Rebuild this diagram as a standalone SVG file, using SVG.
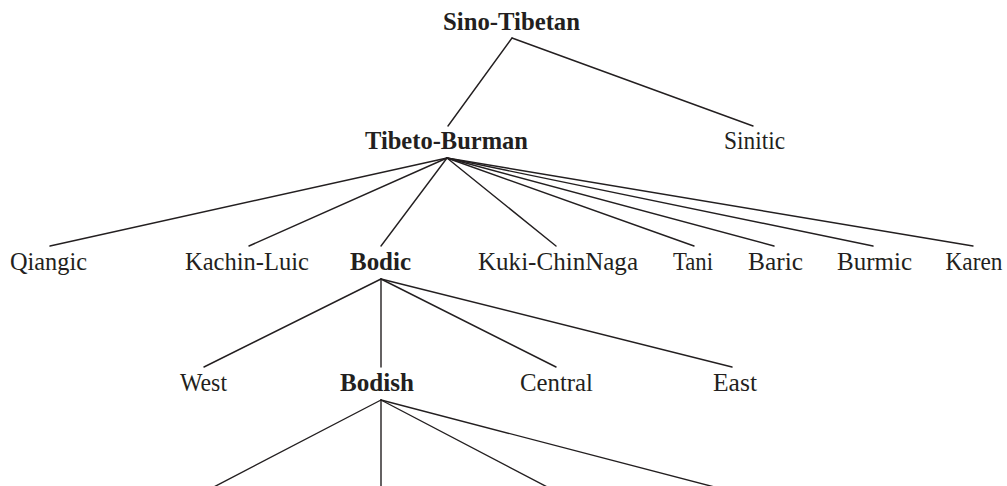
<svg xmlns="http://www.w3.org/2000/svg" width="1007" height="486" viewBox="0 0 1007 486">
<style>
text{font-family:"Liberation Serif","Times New Roman",serif;font-size:25.5px;fill:#231f20;text-anchor:middle}
.b{font-weight:bold}
#connectors line{stroke:#231f20;stroke-width:1.4;stroke-linecap:round}
</style>
<rect width="1007" height="486" fill="#fff"/>
<g id="connectors">
<line x1="512" y1="38" x2="448" y2="126"/>
<line x1="512" y1="38" x2="753" y2="126"/>
<line x1="447" y1="158" x2="50" y2="246"/>
<line x1="447" y1="158" x2="249" y2="246"/>
<line x1="447" y1="158" x2="381" y2="246"/>
<line x1="447" y1="158" x2="556" y2="246"/>
<line x1="447" y1="158" x2="694" y2="246"/>
<line x1="447" y1="158" x2="774" y2="246"/>
<line x1="447" y1="158" x2="873" y2="246"/>
<line x1="447" y1="158" x2="973" y2="246"/>
<line x1="381" y1="279" x2="204" y2="367"/>
<line x1="381" y1="279" x2="381" y2="367"/>
<line x1="381" y1="279" x2="556" y2="367"/>
<line x1="381" y1="279" x2="732" y2="367"/>
<line x1="381" y1="400" x2="208" y2="490"/>
<line x1="381" y1="400" x2="381" y2="490"/>
<line x1="381" y1="400" x2="553" y2="490"/>
<line x1="381" y1="400" x2="726" y2="490"/>
</g>
<g id="sino-tibetan"><text class="b" x="511.5" y="30" textLength="137" lengthAdjust="spacingAndGlyphs">Sino-Tibetan</text></g>
<g id="tibeto-burman"><text class="b" x="446.5" y="149" textLength="163" lengthAdjust="spacingAndGlyphs">Tibeto-Burman</text></g>
<g id="sinitic"><text x="754.5" y="149" textLength="61" lengthAdjust="spacingAndGlyphs">Sinitic</text></g>
<g id="qiangic"><text x="48.5" y="270" textLength="77" lengthAdjust="spacingAndGlyphs">Qiangic</text></g>
<g id="kachin-luic"><text x="247" y="270" textLength="124" lengthAdjust="spacingAndGlyphs">Kachin-Luic</text></g>
<g id="bodic"><text class="b" x="380.5" y="270" textLength="61" lengthAdjust="spacingAndGlyphs">Bodic</text></g>
<g id="kuki-chinnaga"><text x="558" y="270" textLength="160" lengthAdjust="spacingAndGlyphs">Kuki-ChinNaga</text></g>
<g id="tani"><text x="693" y="270" textLength="40" lengthAdjust="spacingAndGlyphs">Tani</text></g>
<g id="baric"><text x="775.5" y="270" textLength="55" lengthAdjust="spacingAndGlyphs">Baric</text></g>
<g id="burmic"><text x="874.5" y="270" textLength="75" lengthAdjust="spacingAndGlyphs">Burmic</text></g>
<g id="karen"><text x="974" y="270" textLength="57" lengthAdjust="spacingAndGlyphs">Karen</text></g>
<g id="west"><text x="203.5" y="391" textLength="47" lengthAdjust="spacingAndGlyphs">West</text></g>
<g id="bodish"><text class="b" x="377" y="391" textLength="74" lengthAdjust="spacingAndGlyphs">Bodish</text></g>
<g id="central"><text x="556.5" y="391" textLength="73" lengthAdjust="spacingAndGlyphs">Central</text></g>
<g id="east"><text x="735" y="391" textLength="44" lengthAdjust="spacingAndGlyphs">East</text></g>
</svg>
